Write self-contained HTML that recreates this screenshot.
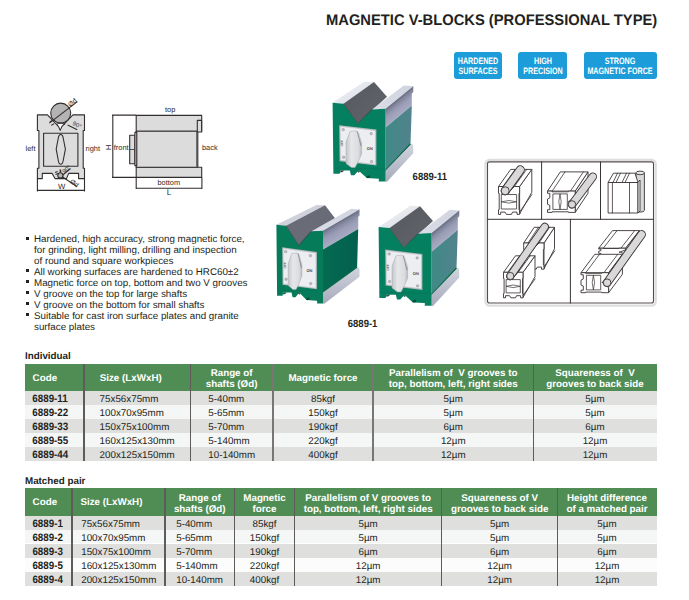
<!DOCTYPE html>
<html><head><meta charset="utf-8">
<style>
*{margin:0;padding:0;box-sizing:border-box}
html,body{width:689px;height:600px;background:#fff;overflow:hidden;font-family:"Liberation Sans",sans-serif;color:#222;text-rendering:geometricPrecision}
.abs{position:absolute}
#title{left:326.3px;top:12px;font-size:15.3px;font-weight:700;color:#231f20;white-space:nowrap;line-height:18px;transform:scaleX(0.963);transform-origin:0 0}
.badge{position:absolute;top:52px;height:27.4px;background:#1c9dd9;border-radius:3px;color:#fff;font-weight:700;font-size:9.3px;line-height:10px;text-align:center;padding-top:3.8px}
.badge span{display:block;width:200px;margin-left:-100px;position:absolute;left:50%;transform:scaleX(0.77);transform-origin:50% 0}
ul#bul{position:absolute;left:25px;top:235.3px;list-style:none;font-size:9.8px;line-height:10.9px;color:#231f20;width:260px}
ul#bul li{padding-left:9px;position:relative}
ul#bul li:before{content:"";position:absolute;left:1.1px;top:1.3px;width:3.1px;height:3.1px;background:#231f20}
.sec{position:absolute;left:25px;font-size:9.8px;font-weight:700;color:#231f20}
.th{position:absolute;background:#4f8d55}
.rw{position:absolute}
.vl{position:absolute}
.ht{position:absolute;color:#fff;font-weight:700;font-size:9.8px;line-height:11px;white-space:nowrap}
.tc{position:absolute;font-size:9.8px;line-height:12px;white-space:nowrap;color:#231f20}
.tc.b{font-weight:700;transform:translateY(0.2px) scaleY(1.1);transform-origin:0 55%}
</style></head><body>
<div id="title" class="abs">MAGNETIC V-BLOCKS (PROFESSIONAL TYPE)</div>
<div class="badge" style="left:453.5px;width:48.5px"><span>HARDENED<br>SURFACES</span></div>
<div class="badge" style="left:518.4px;width:48.8px"><span>HIGH<br>PRECISION</span></div>
<div class="badge" style="left:583.8px;width:73px"><span>STRONG<br>MAGNETIC FORCE</span></div>

<!--DIAGRAM_START--><svg class="abs" style="left:0;top:0" width="689" height="600" viewBox="0 0 689 600">
<g id="diag" fill="#dcdcdc" stroke="#332e2e" stroke-width="1.1" stroke-linejoin="round">
<!-- front view outline -->
<path d="M37.4,114.9 H47.5 L58.6,126.6 L60.2,130.4 L61.8,126.6 L72.9,114.9 H84.5 V130.5 H83.2 V168.2 H84.5 V178.6 H78.6 V173.4 H68.7 L66.5,178.6 H55 L52.2,173.4 H42.3 V178.6 H37.4 V168.2 H38.9 V130.5 H37.4 Z"/>
<rect x="43.6" y="133.2" width="34.3" height="33.1"/>
<path d="M60.7,134.5 C59,134.5 58.6,136 58.3,138 L56.2,149.2 L58.3,160.5 C58.6,162.6 59,164.3 60.7,164.3 C62.4,164.3 62.9,162.6 63.2,160.5 L65.4,149.2 L63.2,138 C62.9,136 62.4,134.5 60.7,134.5 Z"/>
<circle cx="60.7" cy="113.1" r="10" fill="#b4b4b4"/>
<path d="M56.5,124.5 Q60.7,121.5 64.9,124.5" fill="none"/>
<circle cx="60.4" cy="175.4" r="2.6" fill="#b4b4b4"/>
<path d="M60.4,169.5 V172.5" fill="none" stroke-width="1.6"/>
<g fill="none">
<path d="M49.3,123.1 L77.4,101.6"/>
<path d="M49.8,121.8 L52.6,120.4 M51.2,125.4 L54,123.7"/>
<path d="M67.6,125 L77.2,129.7"/>
<path d="M55,172.6 L57.6,171.4 M55.6,174.6 L57.9,173.6"/>
<path d="M62.8,175 L70.5,168.5"/>
<path d="M62.6,177 L77,186.5"/>
<!-- W dimension -->
<path d="M37.4,178.6 V191.5 M84.5,178.6 V191.5 M37.4,190.4 H84.5"/>
</g>
<!-- side view -->
<rect x="136.2" y="115.4" width="65.5" height="15.8"/>
<rect x="136.2" y="167.2" width="65.5" height="10.2"/>
<rect x="136.2" y="131.2" width="61.6" height="36"/>
<path d="M196.7,131.6 V166.8" fill="none" stroke-width="0.8"/>
<rect x="197.3" y="120.4" width="4.3" height="11.6"/>
<rect x="129.7" y="135.3" width="5.2" height="28.4"/>
<rect x="134.9" y="132.4" width="1.9" height="33.2"/>
<path d="M129.7,149.5 H134.9" fill="none" stroke-width="0.8"/>
<g fill="none">
<path d="M112.8,115.1 V177.4 M112,115.1 H136.2 M112,177.4 H136.2"/>
<path d="M136.2,177.4 V189 M201.9,177.4 V189 M136.2,188.2 H201.9"/>
</g>
</g>
<g font-family="Liberation Sans" font-size="7.4" fill="#2f2a2a">
<text x="25.6" y="151.4">left</text>
<text x="85.6" y="151.4">right</text>
<text x="58" y="188.8" font-size="7.8">W</text>
<text x="113.8" y="150.2">front</text>
<text x="202" y="150.2">back</text>
<text x="165" y="112.2">top</text>
<text x="157.5" y="184.6">bottom</text>
<text x="166.8" y="194.6" font-size="8.2">L</text>
<text transform="translate(110.9,147.3) rotate(-90)" text-anchor="middle">H</text>
<text transform="translate(70.6,107.2) rotate(-42)" font-size="6.8">Ød</text>
<text transform="translate(72,124.6) rotate(28)" font-size="6">90°</text>
<text transform="translate(64.5,173.8) rotate(-42)" font-size="6">90°</text>
<text transform="translate(69.6,182.4) rotate(36)" font-size="6.6">Ød</text>
</g>
</svg>
<!--DIAGRAM_END-->

<!--BLOCKS_START--><svg class="abs" style="left:0;top:0" width="689" height="600" viewBox="0 0 689 600">
<defs>
<linearGradient id="gLRT" x1="0" y1="0" x2="1" y2="1"><stop offset="0" stop-color="#f4f5f8"/><stop offset="1" stop-color="#d6dae3"/></linearGradient>
<linearGradient id="gVW" x1="0" y1="0" x2="1" y2="1"><stop offset="0" stop-color="#55585d"/><stop offset="1" stop-color="#62656b"/></linearGradient>
<linearGradient id="gRRT" x1="0" y1="0" x2="1" y2="0"><stop offset="0" stop-color="#dadde6"/><stop offset="1" stop-color="#d0d4df"/></linearGradient>
<linearGradient id="gRRS" x1="0" y1="0" x2="0" y2="1"><stop offset="0" stop-color="#6d7386"/><stop offset="0.35" stop-color="#7f849c"/><stop offset="1" stop-color="#9a9eb3"/></linearGradient>
<linearGradient id="gTEAL" x1="0" y1="0" x2="1" y2="0"><stop offset="0" stop-color="#3f8a86"/><stop offset="1" stop-color="#52828c"/></linearGradient>
<linearGradient id="gTEALA" x1="0" y1="0" x2="1" y2="0"><stop offset="0" stop-color="#056a52"/><stop offset="1" stop-color="#02604e"/></linearGradient>
<linearGradient id="gSTRIP" x1="0" y1="0" x2="0" y2="1"><stop offset="0" stop-color="#d2d5df"/><stop offset="1" stop-color="#a6aabb"/></linearGradient>
<linearGradient id="gKNOB" x1="0" y1="0" x2="1" y2="0"><stop offset="0" stop-color="#c4c6ca"/><stop offset="0.35" stop-color="#e6e7e9"/><stop offset="0.8" stop-color="#dadcdf"/><stop offset="1" stop-color="#b9bbc0"/></linearGradient>
</defs>
<g id="b11">
<polygon points="332.6,102.8 343.5,103.7 374.0,81.9 364.4,81.5" fill="url(#gLRT)"/>
<polygon points="343.5,103.7 374.0,81.9 387.0,96.7 357.9,123.3" fill="url(#gVW)"/>
<polygon points="372.0,109.5 385.6,108.8 413.3,86.2 403.8,85.4" fill="url(#gRRT)"/>
<linearGradient id="gRRSb11" gradientUnits="userSpaceOnUse" x1="385.6" y1="108.8" x2="394.7" y2="120.0"><stop offset="0" stop-color="#666b7e"/><stop offset="0.18" stop-color="#80859c"/><stop offset="0.5" stop-color="#9a9db6"/><stop offset="1" stop-color="#a9abc3"/></linearGradient>
<polygon points="385.6,108.8 413.3,86.2 413.3,92.0 411.8,93.5 411.8,105.5 385.6,127.4" fill="url(#gRRSb11)"/>
<polygon points="385.6,127.4 411.8,105.5 410.5,144.0 385.6,170.5" fill="url(#gTEAL)"/>
<polyline points="385.6,170.5 410.5,144.0" fill="none" stroke="#0a6a45" stroke-width="1.6"/>
<polygon points="385.6,170.5 412.0,143.5 413.2,145.5 413.2,153.3 387.0,181.8 385.6,181.8" fill="url(#gSTRIP)"/>
<polygon points="332.6,102.8 343.5,103.7 357.9,123.3 372.0,109.5 385.6,108.8 385.6,181.5 378.8,181.5 378.8,178.8 366.8,178.1 358.5,170.4 354.3,175.3 351.0,175.3 349.8,170.4 340.2,170.4 339.7,173.7 333.4,173.7" fill="#047f60"/>
<polygon points="340.2,170.4 344.0,170.4 342.8,172.0 340.2,172.4" fill="#0a3327" opacity="0.85"/>
<polygon points="357.2,171.6 358.5,170.4 360.0,171.8 358.6,172.8" fill="#0a3327" opacity="0.8"/>
<polygon points="366.0,177.0 369.6,175.0 370.2,177.6 367.6,178.2" fill="#0a3327" opacity="0.7"/>
<polyline points="333.4,168.2 385.6,169.0" fill="none" stroke="#0a6e52" stroke-width="0.5" opacity="0.7"/>
<polyline points="343.5,103.7 357.9,123.3" fill="none" stroke="#2f3236" stroke-width="0.6"/>
<polyline points="357.9,123.3 372.0,109.5" fill="none" stroke="#2f3236" stroke-width="0.6"/>
<polygon points="339.2,125.2 376.4,129.6 376.4,165.6 339.6,161.2" fill="#b4b7bc"/>
<polygon points="340.4,126.6 375.2,130.8 375.2,164.3 340.7,160.1" fill="#eceef1" stroke="#d5d7db" stroke-width="0.4"/>
<polygon points="350.0,131.5 356.0,130.8 358.5,133.0 361.6,143.0 361.6,154.0 358.0,162.0 355.0,167.6 351.5,167.6 346.0,163.6 346.0,142.0" fill="url(#gKNOB)" stroke="#a9abb0" stroke-width="0.5"/>
<circle cx="343.2" cy="129.6" r="1.2" fill="#c8cacd" stroke="#7d8085" stroke-width="0.5"/>
<circle cx="371.2" cy="133.6" r="1.2" fill="#c8cacd" stroke="#7d8085" stroke-width="0.5"/>
<circle cx="343.6" cy="157.2" r="1.2" fill="#c8cacd" stroke="#7d8085" stroke-width="0.5"/>
<circle cx="371.6" cy="161.6" r="1.2" fill="#c8cacd" stroke="#7d8085" stroke-width="0.5"/>
<text x="366.8" y="150.2" font-size="4" font-weight="700" fill="#4a4c50">ON</text>
<text transform="translate(343.3,146.5) rotate(-90)" font-size="3.3" font-weight="700" fill="#5a5c60">OFF</text>
<polyline points="357.2,131.2 361.0,146.0" fill="none" stroke="#6a6c70" stroke-width="0.6"/>
</g>
<g id="bB">
<polygon points="378.6,227.1 389.5,228.0 420.0,206.2 410.4,205.8" fill="url(#gLRT)"/>
<polygon points="389.5,228.0 420.0,206.2 433.0,221.0 403.9,247.6" fill="url(#gVW)"/>
<polygon points="418.0,233.8 431.6,233.1 459.3,210.5 449.8,209.7" fill="url(#gRRT)"/>
<linearGradient id="gRRSbB" gradientUnits="userSpaceOnUse" x1="431.6" y1="233.1" x2="440.7" y2="244.3"><stop offset="0" stop-color="#666b7e"/><stop offset="0.18" stop-color="#80859c"/><stop offset="0.5" stop-color="#9a9db6"/><stop offset="1" stop-color="#a9abc3"/></linearGradient>
<polygon points="431.6,233.1 459.3,210.5 459.3,216.3 457.8,217.8 457.8,229.8 431.6,251.7" fill="url(#gRRSbB)"/>
<polygon points="431.6,251.7 457.8,229.8 456.5,268.3 431.6,294.8" fill="url(#gTEAL)"/>
<polyline points="431.6,294.8 456.5,268.3" fill="none" stroke="#0a6a45" stroke-width="1.6"/>
<polygon points="431.6,294.8 458.0,267.8 459.2,269.8 459.2,277.6 433.0,306.1 431.6,306.1" fill="url(#gSTRIP)"/>
<polygon points="378.6,227.1 389.5,228.0 403.9,247.6 418.0,233.8 431.6,233.1 431.6,305.8 424.8,305.8 424.8,303.1 412.8,302.4 404.5,294.7 400.3,299.6 397.0,299.6 395.8,294.7 386.2,294.7 385.7,298.0 379.4,298.0" fill="#047f60"/>
<polygon points="386.2,294.7 390.0,294.7 388.8,296.3 386.2,296.7" fill="#0a3327" opacity="0.85"/>
<polygon points="403.2,295.9 404.5,294.7 406.0,296.1 404.6,297.1" fill="#0a3327" opacity="0.8"/>
<polygon points="412.0,301.3 415.6,299.3 416.2,301.9 413.6,302.5" fill="#0a3327" opacity="0.7"/>
<polyline points="379.4,292.5 431.6,293.3" fill="none" stroke="#0a6e52" stroke-width="0.5" opacity="0.7"/>
<polyline points="389.5,228.0 403.9,247.6" fill="none" stroke="#2f3236" stroke-width="0.6"/>
<polyline points="403.9,247.6 418.0,233.8" fill="none" stroke="#2f3236" stroke-width="0.6"/>
<polygon points="385.2,249.5 422.4,253.9 422.4,289.9 385.6,285.5" fill="#b4b7bc"/>
<polygon points="386.4,250.9 421.2,255.1 421.2,288.6 386.7,284.4" fill="#eceef1" stroke="#d5d7db" stroke-width="0.4"/>
<polygon points="396.0,255.8 402.0,255.1 404.5,257.3 407.6,267.3 407.6,278.3 404.0,286.3 401.0,291.9 397.5,291.9 392.0,287.9 392.0,266.3" fill="url(#gKNOB)" stroke="#a9abb0" stroke-width="0.5"/>
<circle cx="389.2" cy="253.9" r="1.2" fill="#c8cacd" stroke="#7d8085" stroke-width="0.5"/>
<circle cx="417.2" cy="257.9" r="1.2" fill="#c8cacd" stroke="#7d8085" stroke-width="0.5"/>
<circle cx="389.6" cy="281.5" r="1.2" fill="#c8cacd" stroke="#7d8085" stroke-width="0.5"/>
<circle cx="417.6" cy="285.9" r="1.2" fill="#c8cacd" stroke="#7d8085" stroke-width="0.5"/>
<text x="412.8" y="274.5" font-size="4" font-weight="700" fill="#4a4c50">ON</text>
<text transform="translate(389.3,270.8) rotate(-90)" font-size="3.3" font-weight="700" fill="#5a5c60">OFF</text>
<polyline points="403.2,255.5 407.0,270.3" fill="none" stroke="#6a6c70" stroke-width="0.6"/>
</g>
<g id="bA">
<polygon points="276.4,224.8 286.0,225.7 325.0,205.3 316.5,204.9" fill="#cfd1dc"/>
<polygon points="286.0,225.7 325.0,205.3 336.4,220.1 298.7,245.3" fill="#696b77"/>
<polygon points="311.1,231.5 323.0,230.8 359.5,209.6 351.2,208.8" fill="url(#gRRT)"/>
<linearGradient id="gRRSbA" gradientUnits="userSpaceOnUse" x1="323.0" y1="230.8" x2="331.1" y2="244.7"><stop offset="0" stop-color="#666b7e"/><stop offset="0.18" stop-color="#80859c"/><stop offset="0.5" stop-color="#9a9db6"/><stop offset="1" stop-color="#a9abc3"/></linearGradient>
<polygon points="323.0,230.8 359.5,209.6 359.5,215.4 358.2,216.9 358.2,228.9 323.0,249.4" fill="url(#gRRSbA)"/>
<polygon points="323.0,249.4 358.2,228.9 357.1,267.4 323.0,292.5" fill="url(#gTEALA)"/>
<polyline points="323.0,292.5 357.1,267.4" fill="none" stroke="#0a6a45" stroke-width="1.6"/>
<polygon points="323.0,292.5 358.4,266.9 359.5,268.9 359.5,276.7 324.3,303.8 323.0,303.8" fill="url(#gSTRIP)"/>
<polygon points="276.4,224.8 286.0,225.7 298.7,245.3 311.1,231.5 323.0,230.8 323.0,303.5 317.1,303.5 317.1,300.8 306.5,300.1 299.2,292.4 295.5,297.3 292.6,297.3 291.5,292.4 283.1,292.4 282.6,295.7 277.1,295.7" fill="#057b5a"/>
<polygon points="283.1,292.4 286.4,292.4 285.4,294.0 283.1,294.4" fill="#0a3327" opacity="0.85"/>
<polygon points="298.0,293.6 299.2,292.4 300.5,293.8 299.3,294.8" fill="#0a3327" opacity="0.8"/>
<polygon points="305.8,299.0 309.0,297.0 309.5,299.6 307.2,300.2" fill="#0a3327" opacity="0.7"/>
<polyline points="277.1,290.2 323.0,291.0" fill="none" stroke="#0a6e52" stroke-width="0.5" opacity="0.7"/>
<polyline points="286.0,225.7 298.7,245.3" fill="none" stroke="#2f3236" stroke-width="0.6"/>
<polyline points="298.7,245.3 311.1,231.5" fill="none" stroke="#2f3236" stroke-width="0.6"/>
<polygon points="282.2,247.2 316.9,252.0 316.9,289.2 282.6,284.8" fill="#b4b7bc"/>
<polygon points="283.3,248.6 315.8,253.2 315.8,287.9 283.5,283.7" fill="#eceef1" stroke="#d5d7db" stroke-width="0.4"/>
<polygon points="291.7,253.5 297.0,252.8 299.2,255.0 301.9,265.0 301.9,276.0 298.8,284.0 296.1,289.6 293.0,289.6 288.2,285.6 288.2,264.0" fill="url(#gKNOB)" stroke="#a9abb0" stroke-width="0.5"/>
<circle cx="285.7" cy="251.6" r="1.2" fill="#c8cacd" stroke="#7d8085" stroke-width="0.5"/>
<circle cx="310.4" cy="255.6" r="1.2" fill="#c8cacd" stroke="#7d8085" stroke-width="0.5"/>
<circle cx="286.1" cy="279.2" r="1.2" fill="#c8cacd" stroke="#7d8085" stroke-width="0.5"/>
<circle cx="310.7" cy="283.6" r="1.2" fill="#c8cacd" stroke="#7d8085" stroke-width="0.5"/>
<text x="306.5" y="272.2" font-size="4" font-weight="700" fill="#4a4c50">ON</text>
<text transform="translate(285.8,268.5) rotate(-90)" font-size="3.3" font-weight="700" fill="#5a5c60">OFF</text>
<polyline points="298.0,253.2 301.4,268.0" fill="none" stroke="#6a6c70" stroke-width="0.6"/>
</g>
<g font-family="Liberation Sans" font-weight="700" fill="#231f20"><text transform="translate(412.6,180) scale(1,1.1)" font-size="9.5">6889-11</text><text transform="translate(347.8,326.9) scale(1,1.1)" font-size="9.5">6889-1</text></g>
</svg><!--BLOCKS_END-->

<!--BOX_START--><svg class="abs" style="left:0;top:0" width="689" height="600" viewBox="0 0 689 600">
<rect x="485.5" y="160" width="170.2" height="145.6" rx="4" fill="none" stroke="#dedede" stroke-width="2.3"/>
<rect x="487.5" y="161.9" width="166" height="141.1" rx="2" fill="#fff" stroke="#554d4d" stroke-width="1.1"/>
<path d="M541.6,161.9 L541.6,219.3" fill="none" stroke="#3a3333" stroke-width="1.0" stroke-linecap="round"/><path d="M600.5,161.9 L600.5,219.3" fill="none" stroke="#3a3333" stroke-width="1.0" stroke-linecap="round"/><path d="M487.5,219.3 L653.5,219.3" fill="none" stroke="#3a3333" stroke-width="1.0" stroke-linecap="round"/><path d="M570.4,219.3 L570.4,303.0" fill="none" stroke="#3a3333" stroke-width="1.0" stroke-linecap="round"/>
<path d="M519.6,186.5 L531.8,169.4 L531.8,192.3 L519.6,214.0 Z" fill="#fff" stroke="#3a3333" stroke-width="0.9" stroke-linejoin="round"/><path d="M498.5,186.5 L510.7,169.4 L531.8,169.4 L519.6,186.5 Z" fill="#fff" stroke="#3a3333" stroke-width="0.9" stroke-linejoin="round"/><path d="M503.0,186.5 L515.2,169.4" fill="none" stroke="#3a3333" stroke-width="0.8" stroke-linecap="round"/><path d="M514.4,186.5 L526.6,169.4" fill="none" stroke="#3a3333" stroke-width="0.8" stroke-linecap="round"/><path d="M508.7,193.2 L520.9,176.1" fill="none" stroke="#3a3333" stroke-width="0.8" stroke-linecap="round"/><path d="M498.5,186.5 L503.0,186.5 L508.0,191.6 L508.7,193.3 L509.4,191.6 L514.4,186.5 L519.6,186.5 L519.6,193.3 L519.0,193.3 L519.0,209.8 L519.6,209.8 L519.6,214.4 L517.0,214.4 L517.0,212.1 L512.5,212.1 L511.5,214.4 L506.4,214.4 L505.1,212.1 L500.7,212.1 L500.7,214.4 L498.5,214.4 L498.5,209.8 L499.2,209.8 L499.2,193.3 L498.5,193.3 Z" fill="#fff" stroke="#3a3333" stroke-width="0.9" stroke-linejoin="round"/><path d="M501.3,194.5 L516.6,194.5 L516.6,209.0 L501.3,209.0 Z" fill="#fff" stroke="#3a3333" stroke-width="0.8" stroke-linejoin="round"/><path d="M501.3,201.8 Q509.0,199.2 516.6,201.8 Q509.0,204.4 501.3,201.8 Z" fill="none" stroke="#3a3333" stroke-width="0.7"/><path d="M519.8,211.6 L532.0,194.5" fill="none" stroke="#3a3333" stroke-width="0.8" stroke-linecap="round"/>
<line x1="505.2" y1="190.8" x2="520.3" y2="169.8" stroke="#3a3333" stroke-width="9.0" stroke-linecap="round"/><line x1="505.2" y1="190.8" x2="520.3" y2="169.8" stroke="#d9d9d9" stroke-width="7.2" stroke-linecap="round"/><circle cx="505.2" cy="190.8" r="4.0" fill="#d9d9d9" stroke="#3a3333" stroke-width="0.9"/>
<path d="M575.2,191.1 L588.0,171.9 L588.0,193.2 L575.2,212.4 Z" fill="#fff" stroke="#3a3333" stroke-width="0.9" stroke-linejoin="round"/><path d="M547.5,191.1 L560.3,171.9 L588.0,171.9 L575.2,191.1 Z" fill="#fff" stroke="#3a3333" stroke-width="0.9" stroke-linejoin="round"/><path d="M552.2,191.1 L565.0,171.9" fill="none" stroke="#3a3333" stroke-width="0.8" stroke-linecap="round"/><path d="M570.5,191.1 L583.3,171.9" fill="none" stroke="#3a3333" stroke-width="0.8" stroke-linecap="round"/><path d="M575.2,191.1 L575.2,195.7 L570.1,200.7 L568.5,201.4 L570.1,202.1 L575.2,207.2 L575.2,212.4 L568.4,212.4 L568.4,211.8 L552.0,211.8 L552.0,212.4 L547.5,212.4 L547.5,209.7 L549.8,209.7 L549.8,205.3 L547.5,204.3 L547.5,199.1 L549.8,197.8 L549.8,193.3 L547.5,193.3 L547.5,191.1 L552.0,191.1 L552.0,191.8 L568.4,191.8 L568.4,191.1 Z" fill="#fff" stroke="#3a3333" stroke-width="0.9" stroke-linejoin="round"/><path d="M567.3,193.9 L567.3,209.4 L552.9,209.4 L552.9,193.9 Z" fill="#fff" stroke="#3a3333" stroke-width="0.8" stroke-linejoin="round"/><path d="M560.0,193.9 Q557.6,201.7 560.0,209.4 Q562.4,201.7 560.0,193.9 Z" fill="none" stroke="#3a3333" stroke-width="0.7"/>
<line x1="572" y1="204.4" x2="592.8" y2="176.7" stroke="#3a3333" stroke-width="8.4" stroke-linecap="round"/><line x1="572" y1="204.4" x2="592.8" y2="176.7" stroke="#d9d9d9" stroke-width="6.6000000000000005" stroke-linecap="round"/><circle cx="572" cy="204.4" r="3.7" fill="#d9d9d9" stroke="#3a3333" stroke-width="0.9"/>
<path d="M635.9,172.9 V210.3 A4.25,1.8 0 0 0 644.4,210.3 V172.9 Z" fill="#d9d9d9" stroke="#3a3333" stroke-width="0.9"/><ellipse cx="640.15" cy="172.9" rx="4.25" ry="1.8" fill="#e6e6e6" stroke="#3a3333" stroke-width="0.9"/><path d="M608.1,182.5 L613.5,173.2 L635.0,173.2 L638.0,182.5 Z" fill="#fff" stroke="#3a3333" stroke-width="0.9" stroke-linejoin="round"/><path d="M613.0,182.5 L617.5,173.2" fill="none" stroke="#3a3333" stroke-width="0.8" stroke-linecap="round"/><path d="M616.0,182.5 L620.5,173.2" fill="none" stroke="#3a3333" stroke-width="0.8" stroke-linecap="round"/><path d="M622.0,182.5 L626.5,173.2" fill="none" stroke="#3a3333" stroke-width="0.8" stroke-linecap="round"/><path d="M625.0,182.5 L629.5,173.2" fill="none" stroke="#3a3333" stroke-width="0.8" stroke-linecap="round"/><path d="M608.1,182.5 L638.0,182.5 L638.0,213.0 L608.1,213.0 Z" fill="#fff" stroke="#3a3333" stroke-width="0.9" stroke-linejoin="round"/><path d="M612.4,182.5 L612.4,213.0" fill="none" stroke="#3a3333" stroke-width="0.8" stroke-linecap="round"/><path d="M629.5,182.5 L629.5,213.0" fill="none" stroke="#3a3333" stroke-width="0.8" stroke-linecap="round"/><path d="M638.0,182.5 L640.0,180.0 L640.0,211.0 L638.0,213.0 Z" fill="#fff" stroke="#3a3333" stroke-width="0.9" stroke-linejoin="round"/>
<path d="M544.0,243.0 L554.5,227.3 L554.5,248.8 L544.0,268.8 Z" fill="#fff" stroke="#3a3333" stroke-width="0.9" stroke-linejoin="round"/><path d="M523.7,243.0 L534.2,227.3 L554.5,227.3 L544.0,243.0 Z" fill="#fff" stroke="#3a3333" stroke-width="0.9" stroke-linejoin="round"/><path d="M528.0,243.0 L538.5,227.3" fill="none" stroke="#3a3333" stroke-width="0.8" stroke-linecap="round"/><path d="M539.0,243.0 L549.5,227.3" fill="none" stroke="#3a3333" stroke-width="0.8" stroke-linecap="round"/><path d="M533.5,249.3 L544.0,233.6" fill="none" stroke="#3a3333" stroke-width="0.8" stroke-linecap="round"/><path d="M523.7,243.0 L528.1,243.0 L532.8,247.8 L533.5,249.4 L534.2,247.8 L539.0,243.0 L544.0,243.0 L544.0,249.4 L543.4,249.4 L543.4,264.9 L544.0,264.9 L544.0,269.2 L541.5,269.2 L541.5,267.1 L537.2,267.1 L536.2,269.2 L531.3,269.2 L530.1,267.1 L525.8,267.1 L525.8,269.2 L523.7,269.2 L523.7,264.9 L524.3,264.9 L524.3,249.4 L523.7,249.4 Z" fill="#fff" stroke="#3a3333" stroke-width="0.9" stroke-linejoin="round"/><path d="M544.2,266.6 L554.7,250.9" fill="none" stroke="#3a3333" stroke-width="0.8" stroke-linecap="round"/>
<path d="M523.0,272.3 L535.0,255.8 L535.0,276.7 L523.0,297.4 Z" fill="#fff" stroke="#3a3333" stroke-width="0.9" stroke-linejoin="round"/><path d="M503.5,272.3 L515.5,255.8 L535.0,255.8 L523.0,272.3 Z" fill="#fff" stroke="#3a3333" stroke-width="0.9" stroke-linejoin="round"/><path d="M507.7,272.3 L519.7,255.8" fill="none" stroke="#3a3333" stroke-width="0.8" stroke-linecap="round"/><path d="M518.2,272.3 L530.2,255.8" fill="none" stroke="#3a3333" stroke-width="0.8" stroke-linecap="round"/><path d="M512.9,278.4 L524.9,261.9" fill="none" stroke="#3a3333" stroke-width="0.8" stroke-linecap="round"/><path d="M503.5,272.3 L507.7,272.3 L512.3,277.0 L512.9,278.5 L513.6,277.0 L518.2,272.3 L523.0,272.3 L523.0,278.5 L522.5,278.5 L522.5,293.6 L523.0,293.6 L523.0,297.8 L520.6,297.8 L520.6,295.7 L516.5,295.7 L515.5,297.8 L510.8,297.8 L509.6,295.7 L505.5,295.7 L505.5,297.8 L503.5,297.8 L503.5,293.6 L504.1,293.6 L504.1,278.5 L503.5,278.5 Z" fill="#fff" stroke="#3a3333" stroke-width="0.9" stroke-linejoin="round"/><path d="M506.1,279.6 L520.3,279.6 L520.3,292.9 L506.1,292.9 Z" fill="#fff" stroke="#3a3333" stroke-width="0.8" stroke-linejoin="round"/><path d="M506.1,286.3 Q513.2,283.7 520.3,286.3 Q513.2,288.9 506.1,286.3 Z" fill="none" stroke="#3a3333" stroke-width="0.7"/><path d="M523.2,295.2 L535.2,278.8" fill="none" stroke="#3a3333" stroke-width="0.8" stroke-linecap="round"/>
<line x1="510.3" y1="276" x2="544.8" y2="226.8" stroke="#3a3333" stroke-width="8.2" stroke-linecap="round"/><line x1="510.3" y1="276" x2="544.8" y2="226.8" stroke="#d9d9d9" stroke-width="6.4" stroke-linecap="round"/><circle cx="510.3" cy="276" r="3.6" fill="#d9d9d9" stroke="#3a3333" stroke-width="0.9"/>
<path d="M625.5,248.2 L639.3,230.6 L639.3,238.6 L625.5,256.2 Z" fill="#fff" stroke="#3a3333" stroke-width="0.9" stroke-linejoin="round"/><path d="M598.7,248.2 L612.5,230.6 L639.3,230.6 L625.5,248.2 Z" fill="#fff" stroke="#3a3333" stroke-width="0.9" stroke-linejoin="round"/><path d="M603.3,248.2 L617.1,230.6" fill="none" stroke="#3a3333" stroke-width="0.8" stroke-linecap="round"/><path d="M620.9,248.2 L634.7,230.6" fill="none" stroke="#3a3333" stroke-width="0.8" stroke-linecap="round"/><path d="M625.5,248.2 L625.5,249.9 L620.6,251.8 L619.0,252.1 L620.6,252.3 L625.5,254.2 L625.5,256.2 L618.9,256.2 L618.9,256.0 L603.1,256.0 L603.1,256.2 L598.7,256.2 L598.7,255.2 L600.9,255.2 L600.9,253.5 L598.7,253.1 L598.7,251.2 L600.9,250.7 L600.9,249.0 L598.7,249.0 L598.7,248.2 L603.1,248.2 L603.1,248.5 L618.9,248.5 L618.9,248.2 Z" fill="#fff" stroke="#3a3333" stroke-width="0.9" stroke-linejoin="round"/>
<path d="M608.6,272.7 L622.4,254.3 L622.4,274.3 L608.6,292.7 Z" fill="#fff" stroke="#3a3333" stroke-width="0.9" stroke-linejoin="round"/><path d="M581.0,272.7 L594.8,254.3 L622.4,254.3 L608.6,272.7 Z" fill="#fff" stroke="#3a3333" stroke-width="0.9" stroke-linejoin="round"/><path d="M585.7,272.7 L599.5,254.3" fill="none" stroke="#3a3333" stroke-width="0.8" stroke-linecap="round"/><path d="M603.9,272.7 L617.7,254.3" fill="none" stroke="#3a3333" stroke-width="0.8" stroke-linecap="round"/><path d="M608.6,272.7 L608.6,277.0 L603.5,281.7 L601.9,282.4 L603.5,283.1 L608.6,287.8 L608.6,292.7 L601.8,292.7 L601.8,292.1 L585.5,292.1 L585.5,292.7 L581.0,292.7 L581.0,290.2 L583.3,290.2 L583.3,286.0 L581.0,285.1 L581.0,280.2 L583.3,279.0 L583.3,274.8 L581.0,274.8 L581.0,272.7 L585.5,272.7 L585.5,273.3 L601.8,273.3 L601.8,272.7 Z" fill="#fff" stroke="#3a3333" stroke-width="0.9" stroke-linejoin="round"/><path d="M600.7,275.3 L600.7,289.9 L586.4,289.9 L586.4,275.3 Z" fill="#fff" stroke="#3a3333" stroke-width="0.8" stroke-linejoin="round"/><path d="M593.4,275.3 Q591.0,282.6 593.4,289.9 Q595.8,282.6 593.4,275.3 Z" fill="none" stroke="#3a3333" stroke-width="0.7"/>
<line x1="607.1" y1="282.7" x2="641.6" y2="234.4" stroke="#3a3333" stroke-width="8.6" stroke-linecap="round"/><line x1="607.1" y1="282.7" x2="641.6" y2="234.4" stroke="#d9d9d9" stroke-width="6.8" stroke-linecap="round"/><circle cx="607.1" cy="282.7" r="3.8" fill="#d9d9d9" stroke="#3a3333" stroke-width="0.9"/>
</svg><!--BOX_END-->

<ul id="bul">
<li>Hardened, high accuracy, strong magnetic force,<br>for grinding, light milling, drilling and inspection<br>of round and square workpieces</li>
<li>All working surfaces are hardened to HRC60±2</li>
<li>Magnetic force on top, bottom and two V grooves</li>
<li>V groove on the top for large shafts</li>
<li>V groove on the bottom for small shafts</li>
<li>Suitable for cast iron surface plates and granite<br>surface plates</li>
</ul>

<!--TABLES_START--><div class="sec" style="top:351px">Individual</div>
<div class="th" style="left:25px;top:363.8px;width:631.5px;height:27.19999999999999px"></div>
<div class="rw" style="left:25px;top:391px;width:631.5px;height:13.699999999999989px;background:#dfdfde"></div>
<div class="rw" style="left:25px;top:404.7px;width:631.5px;height:14.0px;background:#f5f6f6"></div>
<div class="rw" style="left:25px;top:418.7px;width:631.5px;height:14.0px;background:#dfdfde"></div>
<div class="rw" style="left:25px;top:432.7px;width:631.5px;height:14.300000000000011px;background:#f5f6f6"></div>
<div class="rw" style="left:25px;top:447px;width:631.5px;height:14.199999999999989px;background:#dfdfde"></div>
<div class="vl" style="left:83.38px;width:1.25px;top:363.8px;height:97.39999999999998px;background:#5f5a5b"></div>
<div class="vl" style="left:189.57px;width:1.25px;top:363.8px;height:97.39999999999998px;background:#5f5a5b"></div>
<div class="vl" style="left:272.10px;width:1.8px;top:363.8px;height:97.39999999999998px;background:#7a7576"></div>
<div class="vl" style="left:372.10px;width:1.8px;top:363.8px;height:97.39999999999998px;background:#7a7576"></div>
<div class="vl" style="left:532.88px;width:1.25px;top:363.8px;height:97.39999999999998px;background:#5f5a5b"></div>
<div class="ht" style="left:32.6px;text-align:left;transform-origin:0 0;top:372.70px">Code</div>
<div class="ht" style="left:99.7px;text-align:left;transform-origin:0 0;top:372.70px">Size (LxWxH)</div>
<div class="ht" style="left:131.60px;width:200px;text-align:center;transform-origin:50% 0;top:368.20px">Range of<br>shafts (Ød)</div>
<div class="ht" style="left:223.00px;width:200px;text-align:center;transform-origin:50% 0;top:372.70px">Magnetic force</div>
<div class="ht" style="left:353.25px;width:200px;text-align:center;transform-origin:50% 0;top:368.20px">Parallelism of &nbsp;V grooves to<br>top, bottom, left, right sides</div>
<div class="ht" style="left:495.00px;width:200px;text-align:center;transform-origin:50% 0;top:368.20px">Squareness of &nbsp;V<br>grooves to back side</div>
<div class="tc b" style="left:32.3px;top:394.20px">6889-11</div>
<div class="tc" style="left:99.6px;top:394.20px">75x56x75mm</div>
<div class="tc" style="left:208.3px;top:394.20px">5-40mm</div>
<div class="tc" style="left:273px;width:100px;text-align:center;top:394.20px">85kgf</div>
<div class="tc" style="left:373px;width:160.5px;text-align:center;top:394.20px">5µm</div>
<div class="tc" style="left:533.5px;width:123.0px;text-align:center;top:394.20px">5µm</div>
<div class="tc b" style="left:32.3px;top:407.90px">6889-22</div>
<div class="tc" style="left:99.6px;top:407.90px">100x70x95mm</div>
<div class="tc" style="left:208.3px;top:407.90px">5-65mm</div>
<div class="tc" style="left:273px;width:100px;text-align:center;top:407.90px">150kgf</div>
<div class="tc" style="left:373px;width:160.5px;text-align:center;top:407.90px">5µm</div>
<div class="tc" style="left:533.5px;width:123.0px;text-align:center;top:407.90px">5µm</div>
<div class="tc b" style="left:32.3px;top:421.90px">6889-33</div>
<div class="tc" style="left:99.6px;top:421.90px">150x75x100mm</div>
<div class="tc" style="left:208.3px;top:421.90px">5-70mm</div>
<div class="tc" style="left:273px;width:100px;text-align:center;top:421.90px">190kgf</div>
<div class="tc" style="left:373px;width:160.5px;text-align:center;top:421.90px">6µm</div>
<div class="tc" style="left:533.5px;width:123.0px;text-align:center;top:421.90px">6µm</div>
<div class="tc b" style="left:32.3px;top:435.90px">6889-55</div>
<div class="tc" style="left:99.6px;top:435.90px">160x125x130mm</div>
<div class="tc" style="left:208.3px;top:435.90px">5-140mm</div>
<div class="tc" style="left:273px;width:100px;text-align:center;top:435.90px">220kgf</div>
<div class="tc" style="left:373px;width:160.5px;text-align:center;top:435.90px">12µm</div>
<div class="tc" style="left:533.5px;width:123.0px;text-align:center;top:435.90px">12µm</div>
<div class="tc b" style="left:32.3px;top:450.20px">6889-44</div>
<div class="tc" style="left:99.6px;top:450.20px">200x125x150mm</div>
<div class="tc" style="left:208.3px;top:450.20px">10-140mm</div>
<div class="tc" style="left:273px;width:100px;text-align:center;top:450.20px">400kgf</div>
<div class="tc" style="left:373px;width:160.5px;text-align:center;top:450.20px">12µm</div>
<div class="tc" style="left:533.5px;width:123.0px;text-align:center;top:450.20px">12µm</div>
<div class="sec" style="top:475.6px">Matched pair</div>
<div class="th" style="left:25px;top:488.4px;width:631.5px;height:27.200000000000045px"></div>
<div class="rw" style="left:25px;top:515.6px;width:631.5px;height:14.100000000000023px;background:#dfdfde"></div>
<div class="rw" style="left:25px;top:529.7px;width:631.5px;height:13.799999999999955px;background:#f5f6f6"></div>
<div class="rw" style="left:25px;top:543.5px;width:631.5px;height:14.299999999999955px;background:#dfdfde"></div>
<div class="rw" style="left:25px;top:557.8px;width:631.5px;height:14.200000000000045px;background:#fcfcfc"></div>
<div class="rw" style="left:25px;top:572px;width:631.5px;height:14px;background:#dfdfde"></div>
<div class="vl" style="left:71.25px;width:1.5px;top:488.4px;height:97.60000000000002px;background:#5f5a5b"></div>
<div class="vl" style="left:164.38px;width:1.25px;top:488.4px;height:97.60000000000002px;background:#5f5a5b"></div>
<div class="vl" style="left:233.88px;width:1.25px;top:488.4px;height:97.60000000000002px;background:#5f5a5b"></div>
<div class="vl" style="left:293.88px;width:1.25px;top:488.4px;height:97.60000000000002px;background:#5f5a5b"></div>
<div class="vl" style="left:441.18px;width:1.25px;top:488.4px;height:97.60000000000002px;background:#5f5a5b"></div>
<div class="vl" style="left:556.88px;width:1.25px;top:488.4px;height:97.60000000000002px;background:#5f5a5b"></div>
<div class="ht" style="left:32.6px;text-align:left;transform-origin:0 0;top:497.30px">Code</div>
<div class="ht" style="left:80.4px;text-align:left;transform-origin:0 0;top:497.30px">Size (LxWxH)</div>
<div class="ht" style="left:99.75px;width:200px;text-align:center;transform-origin:50% 0;top:492.80px">Range of<br>shafts (Ød)</div>
<div class="ht" style="left:164.50px;width:200px;text-align:center;transform-origin:50% 0;top:492.80px">Magnetic<br>force</div>
<div class="ht" style="left:268.15px;width:200px;text-align:center;transform-origin:50% 0;top:492.80px">Parallelism of V grooves to<br>top, bottom, left, right sides</div>
<div class="ht" style="left:399.65px;width:200px;text-align:center;transform-origin:50% 0;top:492.80px">Squareness of V<br>grooves to back side</div>
<div class="ht" style="left:507.00px;width:200px;text-align:center;transform-origin:50% 0;top:492.80px">Height difference<br>of a matched pair</div>
<div class="tc b" style="left:32.4px;top:518.80px">6889-1</div>
<div class="tc" style="left:81.2px;top:518.80px">75x56x75mm</div>
<div class="tc" style="left:176.2px;top:518.80px">5-40mm</div>
<div class="tc" style="left:234.5px;width:60.0px;text-align:center;top:518.80px">85kgf</div>
<div class="tc" style="left:294.5px;width:147.3px;text-align:center;top:518.80px">5µm</div>
<div class="tc" style="left:441.8px;width:115.69999999999999px;text-align:center;top:518.80px">5µm</div>
<div class="tc" style="left:557.5px;width:99.0px;text-align:center;top:518.80px">5µm</div>
<div class="tc b" style="left:32.4px;top:532.90px">6889-2</div>
<div class="tc" style="left:81.2px;top:532.90px">100x70x95mm</div>
<div class="tc" style="left:176.2px;top:532.90px">5-65mm</div>
<div class="tc" style="left:234.5px;width:60.0px;text-align:center;top:532.90px">150kgf</div>
<div class="tc" style="left:294.5px;width:147.3px;text-align:center;top:532.90px">5µm</div>
<div class="tc" style="left:441.8px;width:115.69999999999999px;text-align:center;top:532.90px">5µm</div>
<div class="tc" style="left:557.5px;width:99.0px;text-align:center;top:532.90px">5µm</div>
<div class="tc b" style="left:32.4px;top:546.70px">6889-3</div>
<div class="tc" style="left:81.2px;top:546.70px">150x75x100mm</div>
<div class="tc" style="left:176.2px;top:546.70px">5-70mm</div>
<div class="tc" style="left:234.5px;width:60.0px;text-align:center;top:546.70px">190kgf</div>
<div class="tc" style="left:294.5px;width:147.3px;text-align:center;top:546.70px">6µm</div>
<div class="tc" style="left:441.8px;width:115.69999999999999px;text-align:center;top:546.70px">6µm</div>
<div class="tc" style="left:557.5px;width:99.0px;text-align:center;top:546.70px">6µm</div>
<div class="tc b" style="left:32.4px;top:561.00px">6889-5</div>
<div class="tc" style="left:81.2px;top:561.00px">160x125x130mm</div>
<div class="tc" style="left:176.2px;top:561.00px">5-140mm</div>
<div class="tc" style="left:234.5px;width:60.0px;text-align:center;top:561.00px">220kgf</div>
<div class="tc" style="left:294.5px;width:147.3px;text-align:center;top:561.00px">12µm</div>
<div class="tc" style="left:441.8px;width:115.69999999999999px;text-align:center;top:561.00px">12µm</div>
<div class="tc" style="left:557.5px;width:99.0px;text-align:center;top:561.00px">12µm</div>
<div class="tc b" style="left:32.4px;top:575.20px">6889-4</div>
<div class="tc" style="left:81.2px;top:575.20px">200x125x150mm</div>
<div class="tc" style="left:176.2px;top:575.20px">10-140mm</div>
<div class="tc" style="left:234.5px;width:60.0px;text-align:center;top:575.20px">400kgf</div>
<div class="tc" style="left:294.5px;width:147.3px;text-align:center;top:575.20px">12µm</div>
<div class="tc" style="left:441.8px;width:115.69999999999999px;text-align:center;top:575.20px">12µm</div>
<div class="tc" style="left:557.5px;width:99.0px;text-align:center;top:575.20px">12µm</div><!--TABLES_END-->
</body></html>
